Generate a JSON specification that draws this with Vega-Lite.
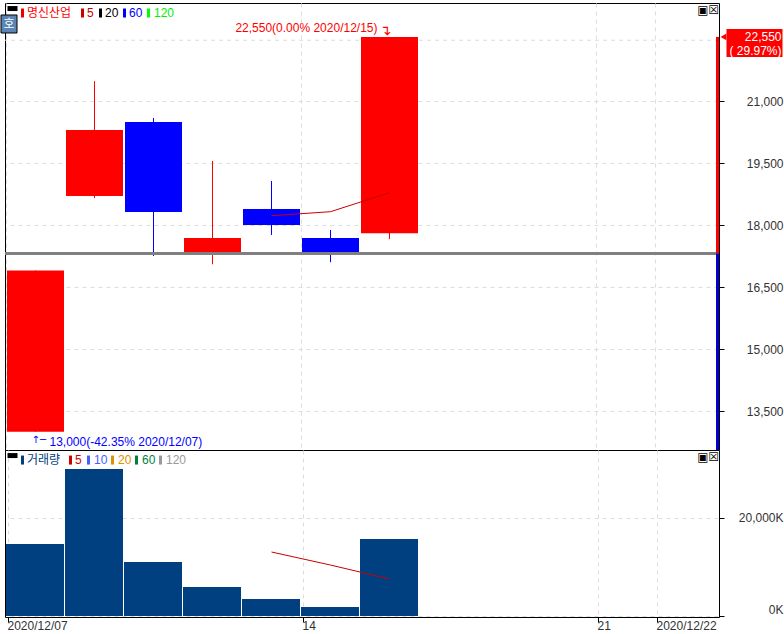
{"$schema":"https://vega.github.io/schema/vega-lite/v6.json","padding":{"top":2,"left":0,"right":0,"bottom":0},"background":"white","spacing":0,"bounds":"flush",
"config":{"view":{"stroke":"#000","strokeWidth":1},"text":{"font":"Liberation Sans","fontSize":12,"baseline":"middle"},"axis":{"labelFont":"Liberation Sans","labelFontSize":12,"labelColor":"#333","gridColor":"#ddd","gridDash":[4,4],"gridWidth":1,"tickColor":"#000","domainColor":"#000","title":null,"labelOverlap":false}},
"datasets":{
"candles":[
{"date":"2020/12/07","open":13000,"close":16900,"high":16900,"low":13000,"dir":"up","volume":14700},
{"date":"2020/12/08","open":18700,"close":20300,"high":21480,"low":18650,"dir":"up","volume":30000},
{"date":"2020/12/09","open":20490,"close":18315,"high":20590,"low":17250,"dir":"down","volume":11020},
{"date":"2020/12/10","open":17350,"close":17685,"high":19550,"low":17050,"dir":"up","volume":5920},
{"date":"2020/12/11","open":18390,"close":18000,"high":19065,"low":17760,"dir":"down","volume":3470},
{"date":"2020/12/14","open":17685,"close":17350,"high":17880,"low":17100,"dir":"down","volume":1840},
{"date":"2020/12/15","open":17800,"close":22550,"high":22550,"low":17660,"dir":"up","volume":15700}],
"ma":[{"date":"2020/12/11","ma5":18225,"vma5":13060},{"date":"2020/12/14","ma5":18322,"vma5":10400},{"date":"2020/12/15","ma5":18782,"vma5":7550}]},
"vconcat":[
{"width":714,"height":447,"encoding":{"x":{"field":"date","type":"nominal","sort":null,"scale":{"domain":["2020/12/07","2020/12/08","2020/12/09","2020/12/10","2020/12/11","2020/12/14","2020/12/15","2020/12/16","2020/12/17","2020/12/18","2020/12/21","2020/12/22"],"range":[1,709]},"axis":{"values":["2020/12/07","2020/12/14","2020/12/21","2020/12/22"],"bandPosition":0,"labels":false,"ticks":false,"domain":false,"grid":true,"title":null}},"y":{"field":"price","type":"quantitative","scale":{"domain":[12557,23371],"nice":false,"zero":false},"axis":{"orient":"right","values":[13500,15000,16500,18000,19500,21000],"format":",d","domain":false,"tickSize":5,"labelAlign":"right","labelPadding":59,"grid":true,"title":null}}},
"layer":[
{"data":{"name":"candles"},"mark":{"type":"rule","size":1},"encoding":{"y":{"field":"low","type":"quantitative"},"y2":{"field":"high"},"color":{"field":"dir","type":"nominal","scale":{"domain":["up","down"],"range":["#ff0000","#0000ff"]},"legend":null}}},
{"data":{"values":[{"price":22470}]},"mark":{"type":"rule","color":"#ddd","strokeDash":[4,4]},"encoding":{"x":null}},
{"data":{"name":"candles"},"mark":{"type":"bar","size":57},"encoding":{"y":{"field":"open","type":"quantitative"},"y2":{"field":"close"},"color":{"field":"dir","type":"nominal","legend":null}}},
{"data":{"values":[{"price":17311}]},"mark":{"type":"rule","color":"#808080","size":3},"encoding":{"x":null}},
{"data":{"name":"ma"},"mark":{"type":"line","color":"#cc0000","strokeWidth":1},"encoding":{"y":{"field":"ma5","type":"quantitative"}}},
{"data":{"values":[{"date":"2020/12/22","low":17311,"high":22550}]},"mark":{"type":"rule","color":"#ff0000","size":3,"xOffset":33},"encoding":{"y":{"field":"low","type":"quantitative"},"y2":{"field":"high"}}},
{"data":{"values":[{"date":"2020/12/22","low":12557,"high":17311}]},"mark":{"type":"rule","color":"#0000cc","size":3,"xOffset":33},"encoding":{"y":{"field":"low","type":"quantitative"},"y2":{"field":"high"}}},
{"data":{"values":[{"date":"2020/12/22","price":22403}]},"mark":{"type":"rect","color":"#ff0000","width":56,"height":28,"xOffset":70}},
{"data":{"values":[{"date":"2020/12/22","price":22550}]},"mark":{"type":"point","shape":"triangle-left","filled":true,"opacity":1,"color":"#ff0000","size":45,"xOffset":39}},
{"data":{"values":[{"date":"2020/12/22","price":22550,"label":"22,550"}]},"mark":{"type":"text","align":"right","dx":97,"color":"#fff"},"encoding":{"text":{"field":"label"}}},
{"data":{"values":[{"date":"2020/12/22","price":22210,"label":"( 29.97%)"}]},"mark":{"type":"text","align":"right","dx":97,"color":"#fff"},"encoding":{"text":{"field":"label"}}},
{"data":{"values":[{"date":"2020/12/15","price":22766,"label":"22,550(0.00% 2020/12/15)"}]},"mark":{"type":"text","align":"right","dx":-12,"color":"#ff0000"},"encoding":{"text":{"field":"label"}}},
{"data":{"values":[{"date":"2020/12/15","price":22700,"label":"↴"}]},"mark":{"type":"text","align":"center","dx":-4,"color":"#ff0000","font":"DejaVu Sans","fontSize":14},"encoding":{"text":{"field":"label"}}},
{"data":{"values":[{"date":"2020/12/07","price":12740,"label":"13,000(-42.35% 2020/12/07)"}]},"mark":{"type":"text","align":"left","dx":14,"color":"#0000ff"},"encoding":{"text":{"field":"label"}}},
{"data":{"values":[{"date":"2020/12/07","price":12790,"label":"↑─"}]},"mark":{"type":"text","align":"left","dx":-4,"color":"#0000ff","font":"DejaVu Sans","fontSize":10},"encoding":{"text":{"field":"label"}}},
{"data":{"values":[{"date":"2020/12/07","price":22863}]},"mark":{"type":"rect","color":"#5b85b5","stroke":"#000","strokeWidth":1,"width":16,"height":18,"xOffset":-26.5}},
{"data":{"values":[{"date":"2020/12/07","price":22863,"label":"호"}]},"mark":{"type":"text","align":"center","dx":-26.5,"color":"#fff","font":"Noto Sans CJK KR"},"encoding":{"text":{"field":"label"}}},
{"data":{"values":[{"date":"2020/12/07","price":23237}]},"mark":{"type":"rect","color":"#000","width":10,"height":5,"xOffset":-23}},
{"data":{"values":[{"date":"2020/12/07","price":23129}]},"mark":{"type":"rect","color":"#ee0000","width":3,"height":9,"xOffset":-13}},
{"data":{"values":[{"date":"2020/12/07","price":23129,"label":"명신산업"}]},"mark":{"type":"text","align":"left","dx":-8.5,"color":"#ff0000","font":"Noto Sans CJK KR"},"encoding":{"text":{"field":"label"}}},
{"data":{"values":[{"date":"2020/12/07","price":23129}]},"mark":{"type":"rect","color":"#cc0000","width":3,"height":9,"xOffset":47}},
{"data":{"values":[{"date":"2020/12/07","price":23129,"label":"5"}]},"mark":{"type":"text","align":"left","dx":51.5,"color":"#cc0000"},"encoding":{"text":{"field":"label"}}},
{"data":{"values":[{"date":"2020/12/07","price":23129}]},"mark":{"type":"rect","color":"#000","width":3,"height":9,"xOffset":65}},
{"data":{"values":[{"date":"2020/12/07","price":23129,"label":"20"}]},"mark":{"type":"text","align":"left","dx":69.5,"color":"#000"},"encoding":{"text":{"field":"label"}}},
{"data":{"values":[{"date":"2020/12/07","price":23129}]},"mark":{"type":"rect","color":"#0000ff","width":3,"height":9,"xOffset":89}},
{"data":{"values":[{"date":"2020/12/07","price":23129,"label":"60"}]},"mark":{"type":"text","align":"left","dx":93.5,"color":"#0000ff"},"encoding":{"text":{"field":"label"}}},
{"data":{"values":[{"date":"2020/12/07","price":23129}]},"mark":{"type":"rect","color":"#00ff00","width":3,"height":9,"xOffset":113}},
{"data":{"values":[{"date":"2020/12/07","price":23129,"label":"120"}]},"mark":{"type":"text","align":"left","dx":118.5,"color":"#00ee00"},"encoding":{"text":{"field":"label"}}},
{"data":{"values":[{"date":"2020/12/22","price":23201,"label":"▣"}]},"mark":{"type":"text","align":"center","dx":18.5,"color":"#000","font":"DejaVu Sans","fontSize":12},"encoding":{"text":{"field":"label"}}},
{"data":{"values":[{"date":"2020/12/22","price":23201,"label":"☒"}]},"mark":{"type":"text","align":"center","dx":29,"color":"#000","font":"DejaVu Sans","fontSize":12},"encoding":{"text":{"field":"label"}}}
]},
{"width":714,"height":167,"encoding":{"x":{"field":"date","type":"nominal","sort":null,"scale":{"domain":["2020/12/07","2020/12/08","2020/12/09","2020/12/10","2020/12/11","2020/12/14","2020/12/15","2020/12/16","2020/12/17","2020/12/18","2020/12/21","2020/12/22"],"range":[1,709]},"axis":{"values":["2020/12/07","2020/12/14","2020/12/21","2020/12/22"],"labelExpr":"datum.value=='2020/12/14'?'14':datum.value=='2020/12/21'?'21':datum.value","bandPosition":0,"labelAngle":0,"labelAlign":"left","labelOffset":-28,"labelPadding":-2,"labelBaseline":"top","tickSize":5,"grid":true,"title":null}},"y":{"field":"volume","type":"quantitative","scale":{"domain":[-204,33877],"nice":false,"zero":false},"axis":{"orient":"right","values":[0,20000],"labelExpr":"format(datum.value,',d')+'K'","domain":false,"tickSize":5,"labelAlign":"right","labelPadding":59,"labelBaseline":{"condition":{"test":"datum.value==0","value":"bottom"},"value":"middle"},"grid":true,"title":null}}},
"layer":[
{"data":{"name":"candles"},"mark":{"type":"bar","size":58,"color":"#004080","xOffset":-0.5}},
{"data":{"name":"ma"},"mark":{"type":"line","color":"#cc0000","strokeWidth":1},"encoding":{"y":{"field":"vma5","type":"quantitative"}}},
{"data":{"values":[{"date":"2020/12/07","volume":32742}]},"mark":{"type":"rect","color":"#000","width":10,"height":5,"xOffset":-23}},
{"data":{"values":[{"date":"2020/12/07","volume":31824}]},"mark":{"type":"rect","color":"#004080","width":3,"height":9,"xOffset":-13}},
{"data":{"values":[{"date":"2020/12/07","volume":31824,"label":"거래량"}]},"mark":{"type":"text","align":"left","dx":-8.5,"color":"#004080","font":"Noto Sans CJK KR"},"encoding":{"text":{"field":"label"}}},
{"data":{"values":[{"date":"2020/12/07","volume":31824}]},"mark":{"type":"rect","color":"#cc0000","width":3,"height":9,"xOffset":35}},
{"data":{"values":[{"date":"2020/12/07","volume":31824,"label":"5"}]},"mark":{"type":"text","align":"left","dx":39.5,"color":"#cc0000"},"encoding":{"text":{"field":"label"}}},
{"data":{"values":[{"date":"2020/12/07","volume":31824}]},"mark":{"type":"rect","color":"#4060ff","width":3,"height":9,"xOffset":53}},
{"data":{"values":[{"date":"2020/12/07","volume":31824,"label":"10"}]},"mark":{"type":"text","align":"left","dx":58.5,"color":"#4060ff"},"encoding":{"text":{"field":"label"}}},
{"data":{"values":[{"date":"2020/12/07","volume":31824}]},"mark":{"type":"rect","color":"#e09000","width":3,"height":9,"xOffset":77}},
{"data":{"values":[{"date":"2020/12/07","volume":31824,"label":"20"}]},"mark":{"type":"text","align":"left","dx":82.5,"color":"#e09000"},"encoding":{"text":{"field":"label"}}},
{"data":{"values":[{"date":"2020/12/07","volume":31824}]},"mark":{"type":"rect","color":"#008040","width":3,"height":9,"xOffset":101}},
{"data":{"values":[{"date":"2020/12/07","volume":31824,"label":"60"}]},"mark":{"type":"text","align":"left","dx":106.5,"color":"#008040"},"encoding":{"text":{"field":"label"}}},
{"data":{"values":[{"date":"2020/12/07","volume":31824}]},"mark":{"type":"rect","color":"#999","width":3,"height":9,"xOffset":125}},
{"data":{"values":[{"date":"2020/12/07","volume":31824,"label":"120"}]},"mark":{"type":"text","align":"left","dx":130.5,"color":"#999"},"encoding":{"text":{"field":"label"}}},
{"data":{"values":[{"date":"2020/12/22","volume":32436,"label":"▣"}]},"mark":{"type":"text","align":"center","dx":18.5,"color":"#000","font":"DejaVu Sans","fontSize":12},"encoding":{"text":{"field":"label"}}},
{"data":{"values":[{"date":"2020/12/22","volume":32436,"label":"☒"}]},"mark":{"type":"text","align":"center","dx":29,"color":"#000","font":"DejaVu Sans","fontSize":12},"encoding":{"text":{"field":"label"}}}
]}
]}
